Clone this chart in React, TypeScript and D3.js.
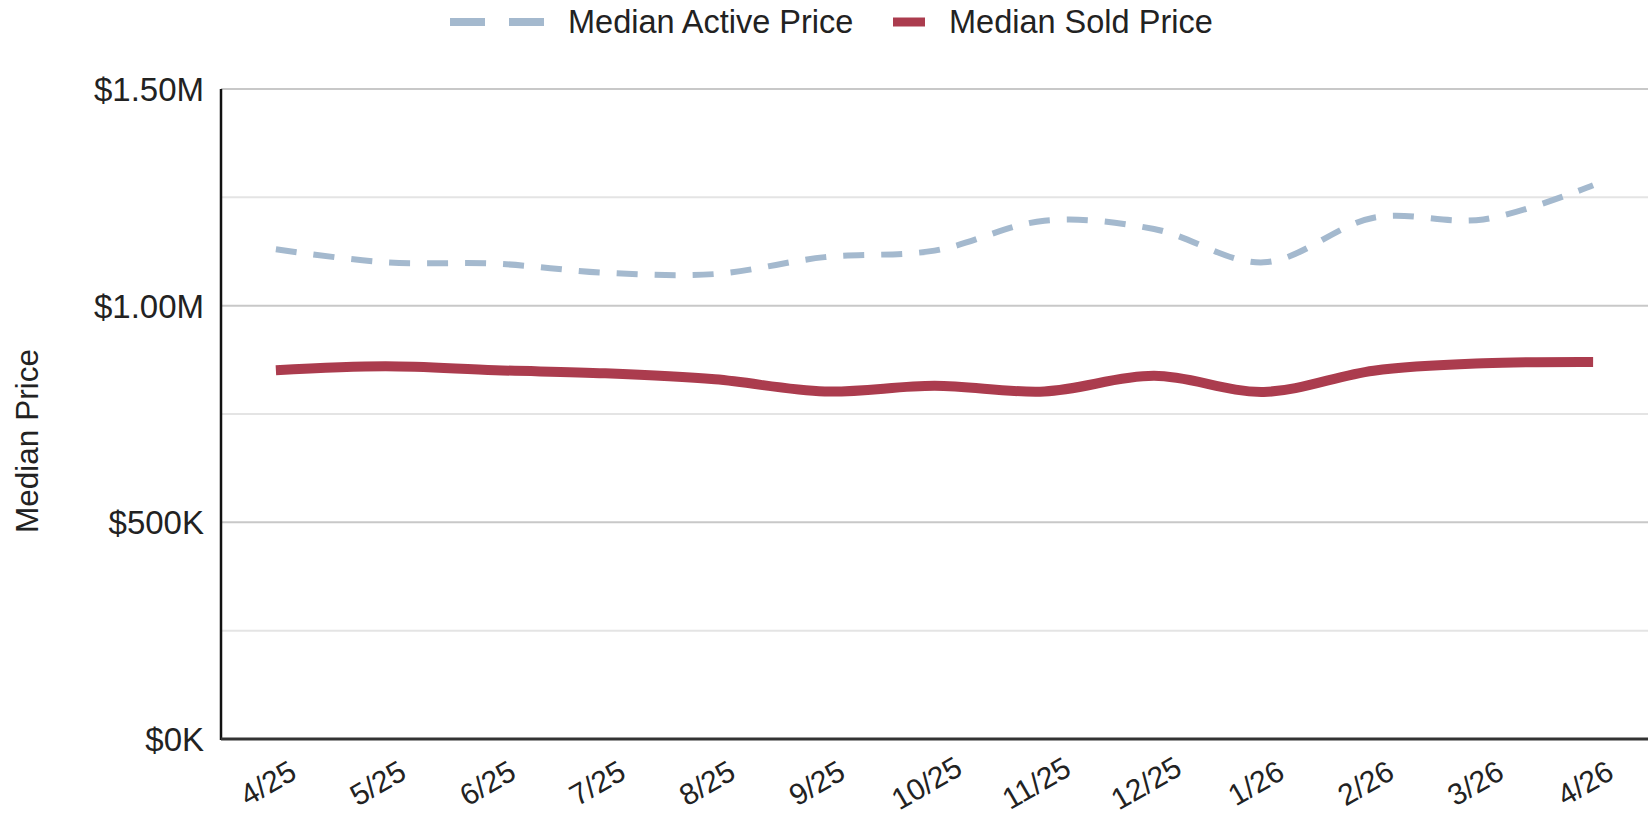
import React from "react";
import * as d3 from "d3";

const months = ["4/25","5/25","6/25","7/25","8/25","9/25","10/25","11/25","12/25","1/26","2/26","3/26","4/26"];
const activePrice = [1130000,1100000,1097000,1076000,1073000,1112000,1127000,1196000,1177000,1100000,1203000,1199000,1278000];
const soldPrice = [851000,860000,851000,844000,830000,802000,815000,802000,838000,801000,850000,867000,870000];
const majorTicks = [0,500000,1000000,1500000];
const minorTicks = [250000,750000,1250000];
const tickLabels = ["$0K","$500K","$1.00M","$1.50M"];

const W = 1650, H = 820;
const left = 221, right = 1648, top = 89, bottom = 739;
const FONT = "'Liberation Sans', Arial, Helvetica, sans-serif";

export default function App() {
  const x = d3.scalePoint<string>().domain(months).range([left, right]).padding(0.5);
  const y = d3.scaleLinear().domain([0, 1500000]).range([bottom, top]);
  const line = d3.line<number>()
    .x((_, i) => x(months[i]) as number)
    .y((d) => y(d))
    .curve(d3.curveCatmullRom.alpha(0.5));
  const activeColor = "#a4b9ce";
  const soldColor = "#ab3c4e";
  return (
    <svg width={W} height={H} style={{ position: "absolute", left: 0, top: 0, background: "#fff" }} fontFamily={FONT}>
      <rect x={0} y={0} width={W} height={H} fill="#fff" />
      {/* legend */}
      <line x1={450} x2={485} y1={22} y2={22} stroke={activeColor} strokeWidth={8} />
      <line x1={509} x2={544} y1={22} y2={22} stroke={activeColor} strokeWidth={8} />
      <text x={568} y={33} fontSize={32.5} fill="#222">Median Active Price</text>
      <line x1={893} x2={925} y1={22} y2={22} stroke={soldColor} strokeWidth={9} />
      <text x={949} y={33} fontSize={32.5} fill="#222">Median Sold Price</text>

      {/* gridlines */}
      {minorTicks.map((t) => (
        <line key={"m" + t} x1={left} x2={right} y1={y(t)} y2={y(t)} stroke="#e4e4e4" strokeWidth={2} />
      ))}
      {majorTicks.filter((t) => t > 0).map((t) => (
        <line key={"M" + t} x1={left} x2={right} y1={y(t)} y2={y(t)} stroke="#c8c8c8" strokeWidth={2} />
      ))}
      {majorTicks.map((t, i) => (
        <text key={"l" + t} x={204} y={y(t)} dy="0.36em" textAnchor="end" fontSize={33} fill="#222">{tickLabels[i]}</text>
      ))}

      {/* y-axis title */}
      <text transform={`translate(38,441) rotate(-90)`} textAnchor="middle" fontSize={31.5} fill="#222">Median Price</text>

      {/* lines */}
      <path d={line(activePrice) || ""} fill="none" stroke={activeColor} strokeWidth={6} strokeDasharray="21 17" />
      <path d={line(soldPrice) || ""} fill="none" stroke={soldColor} strokeWidth={10} strokeLinejoin="round" />

      {/* axes */}
      <line x1={left} x2={left} y1={top} y2={bottom + 1} stroke="#111" strokeWidth={2.5} />
      <line x1={left} x2={right} y1={bottom} y2={bottom} stroke="#333" strokeWidth={3} />

      {/* x labels */}
      {months.map((m) => {
        const cx = (x(m) as number) - 8;
        return (
          <text key={m} transform={`translate(${cx},783) rotate(-30)`} textAnchor="middle" dy="0.35em" fontSize={30} fill="#222">{m}</text>
        );
      })}
    </svg>
  );
}
